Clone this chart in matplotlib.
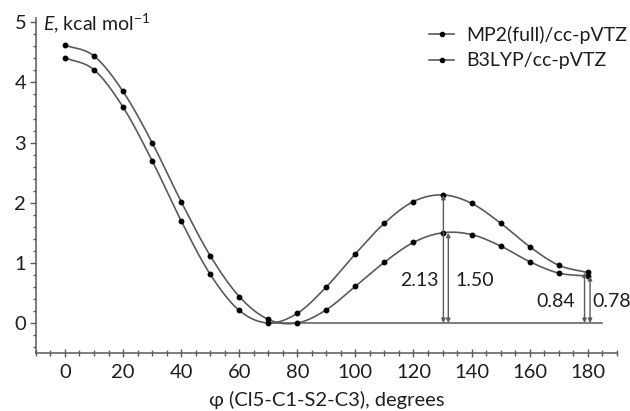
import numpy as np
import matplotlib
matplotlib.use('Agg')
import matplotlib.pyplot as plt
from matplotlib.ticker import MultipleLocator

# dihedral angle, degrees
phi = [0, 10, 20, 30, 40, 50, 60, 70, 80, 90, 100, 110, 120, 130, 140, 150, 160, 170, 180]

# relative energies, kcal/mol
e_mp2 = [4.41, 4.21, 3.59, 2.70, 1.70, 0.81, 0.21, 0.00, 0.16, 0.60, 1.15, 1.66, 2.02, 2.13, 1.99, 1.66, 1.27, 0.96, 0.84]
e_b3lyp = [4.62, 4.44, 3.85, 3.00, 2.02, 1.12, 0.44, 0.06, 0.00, 0.22, 0.61, 1.01, 1.34, 1.50, 1.47, 1.28, 1.02, 0.83, 0.78]

series_labels = ['MP2(full)/cc-pVTZ', 'B3LYP/cc-pVTZ']

# barrier arrows: (x, height)
barriers = [(130.3, 2.13), (132.0, 1.50), (178.9, 0.84), (180.8, 0.78)]

plt.rcParams['font.family'] = ['Lato', 'DejaVu Sans']
plt.rcParams['mathtext.fontset'] = 'custom'
plt.rcParams['mathtext.rm'] = 'Lato'
plt.rcParams['mathtext.it'] = 'Lato:italic'

line_col = '#5a5a5a'
txt_col = '#1e1e1e'
fs = 14.5


def smooth(x, y, n=12):
    # Catmull-Rom rendering of the line through the measured points
    x = np.asarray(x, float)
    y = np.asarray(y, float)
    px = np.concatenate([[2 * x[0] - x[1]], x, [2 * x[-1] - x[-2]]])
    py = np.concatenate([[2 * y[0] - y[1]], y, [2 * y[-1] - y[-2]]])
    xs, ys = [], []
    t = np.linspace(0, 1, n, endpoint=False)
    for i in range(1, len(px) - 2):
        for arr, out in ((px, xs), (py, ys)):
            p0, p1, p2, p3 = arr[i - 1], arr[i], arr[i + 1], arr[i + 2]
            out.extend(0.5 * ((2 * p1) + (-p0 + p2) * t
                              + (2 * p0 - 5 * p1 + 4 * p2 - p3) * t ** 2
                              + (-p0 + 3 * p1 - 3 * p2 + p3) * t ** 3))
    xs.append(x[-1])
    ys.append(y[-1])
    return np.array(xs), np.array(ys)


fig = plt.figure(figsize=(6.3, 4.11), dpi=100)
ax = fig.add_axes([0.057, 0.141, 0.922, 0.815])

for e, lab in zip([e_mp2, e_b3lyp], series_labels):
    sx, sy = smooth(phi, e)
    ax.plot(sx, sy, color=line_col, lw=1.2, zorder=2)
    ax.plot(phi, e, ls='none', marker='o', ms=3.2, color='black', zorder=3)
    # legend proxy
    ax.plot([], [], color=line_col, lw=1.2, marker='o', ms=3, mfc='black', mec='black', label=lab)

# baseline and barrier arrows
ax.plot([70, 185], [0, 0], color=line_col, lw=1.1, zorder=1)
for x, h in barriers:
    ax.annotate('', xy=(x, h), xytext=(x, 0),
                arrowprops=dict(arrowstyle='<|-|>', color=line_col, lw=1.0,
                                mutation_scale=6, shrinkA=0, shrinkB=0))

afs = 14
ax.text(128.6, 0.70, '2.13', ha='right', va='center', fontsize=afs, color=txt_col)
ax.text(134.3, 0.70, '1.50', ha='left', va='center', fontsize=afs, color=txt_col)
ax.text(175.5, 0.36, '0.84', ha='right', va='center', fontsize=afs, color=txt_col)
ax.text(181.6, 0.36, '0.78', ha='left', va='center', fontsize=afs, color=txt_col, clip_on=False)

ax.text(-7.5, 4.99, r'$\it{E}$, kcal mol$^{-1}$', ha='left', va='center', fontsize=14, color=txt_col)

ax.set_xlim(-10, 190)
ax.set_ylim(-0.5, 5.07)
ax.xaxis.set_major_locator(MultipleLocator(20))
ax.xaxis.set_minor_locator(MultipleLocator(5))
ax.yaxis.set_major_locator(MultipleLocator(1))
ax.yaxis.set_minor_locator(MultipleLocator(0.2))

for s in ['top', 'right']:
    ax.spines[s].set_visible(False)
for s in ['left', 'bottom']:
    ax.spines[s].set_color(line_col)
    ax.spines[s].set_linewidth(1.1)

ax.tick_params(axis='x', which='major', direction='inout', length=6, width=1, color=line_col,
               labelsize=fs, labelcolor=txt_col, pad=5)
ax.tick_params(axis='x', which='minor', direction='inout', length=4, width=1, color=line_col)
ax.tick_params(axis='y', which='major', direction='out', length=4, width=1, color=line_col,
               labelsize=fs, labelcolor=txt_col, pad=3)
ax.tick_params(axis='y', which='minor', direction='out', length=2.5, width=1, color=line_col)

ax.set_xlabel('φ (Cl5-C1-S2-C3), degrees', fontsize=fs, color=txt_col, labelpad=7)

ax.legend(loc='upper right', bbox_to_anchor=(1.048, 1.03), frameon=False, fontsize=14,
          handlelength=1.3, handletextpad=0.6, labelspacing=0.45, labelcolor=txt_col)

fig.savefig('out.png', dpi=100)
